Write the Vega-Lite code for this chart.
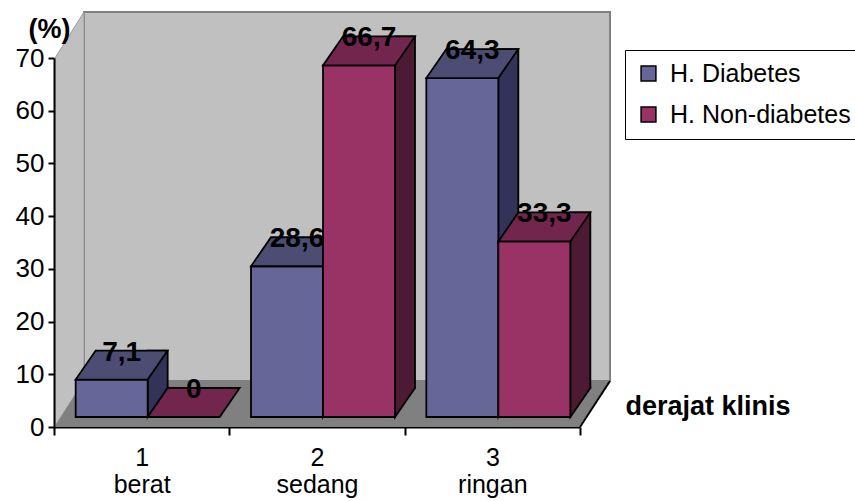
{
  "$schema": "https://vega.github.io/schema/vega-lite/v6.json",
  "width": 526,
  "height": 369,
  "autosize": {"type": "none"},
  "padding": {"left": 54, "top": 58, "right": 275, "bottom": 74},
  "background": "white",
  "config": {
    "font": "Liberation Sans",
    "view": {"stroke": null},
    "axisX": {
      "domainColor": "black", "domainWidth": 2, "tickColor": "black", "tickWidth": 2, "tickSize": 8,
      "tickBand": "extent", "labelFontSize": 25, "labelAngle": 0, "labelPadding": 10, "labelLineHeight": 27,
      "labelBaseline": "top", "labelColor": "black", "grid": false, "zindex": 1,
      "titleFontSize": 27, "titleFontWeight": "bold", "titleX": 571, "titleY": -13, "titleAlign": "left",
      "titleBaseline": "alphabetic", "titleColor": "black"
    },
    "axisY": {
      "domainColor": "black", "domainWidth": 2, "tickColor": "black", "tickWidth": 2, "tickSize": 6,
      "labelFontSize": 26, "labelColor": "black", "labelPadding": 4, "grid": false, "zindex": 1,
      "titleFontSize": 27, "titleFontWeight": "bold", "titleAngle": 0, "titleX": -5, "titleY": -21,
      "titleAlign": "center", "titleBaseline": "alphabetic", "titleColor": "black"
    }
  },
  "data": {"values": [
    {"kelas": "1 berat", "seri": "H. Diabetes", "nilai": 7.1, "label": "7,1"},
    {"kelas": "1 berat", "seri": "H. Non-diabetes", "nilai": 0, "label": "0"},
    {"kelas": "2 sedang", "seri": "H. Diabetes", "nilai": 28.6, "label": "28,6"},
    {"kelas": "2 sedang", "seri": "H. Non-diabetes", "nilai": 66.7, "label": "66,7"},
    {"kelas": "3 ringan", "seri": "H. Diabetes", "nilai": 64.3, "label": "64,3"},
    {"kelas": "3 ringan", "seri": "H. Non-diabetes", "nilai": 33.3, "label": "33,3"}
  ]},
  "layer": [
    {
      "transform": [{"filter": "datum.kelas == '2 sedang' && datum.seri == 'H. Diabetes'"}],
      "mark": {"type": "point", "shape": "M-4.66,-0.92L5.86,-0.92L5.86,-8.3L-4.66,-8.3Z", "size": 10000,
               "filled": true, "fill": "#c0c0c0", "stroke": "#808080", "strokeWidth": 2, "opacity": 1},
      "encoding": {
        "x": {"field": "kelas", "type": "nominal", "sort": ["1 berat", "2 sedang", "3 ringan"], "title": "derajat klinis",
              "scale": {"domain": ["1 berat", "2 sedang", "3 ringan"], "paddingInner": 0, "paddingOuter": 0},
              "axis": {"zindex": 1, "labelExpr": "isValid(datum.value) ? split(datum.value, ' ') : ''"}},
        "y": {"datum": 0, "type": "quantitative", "title": "(%)",
              "scale": {"domain": [0, 70], "nice": false},
              "axis": {"zindex": 1, "values": [0, 10, 20, 30, 40, 50, 60, 70]}}
      }
    },
    {
      "transform": [{"filter": "datum.kelas == '1 berat' && datum.seri == 'H. Diabetes'"}],
      "mark": {"type": "point", "shape": "M-1.732,-0.02L-1.732,-7.38L-1.1533,-8.3L-1.1533,-0.92Z", "size": 10000,
               "filled": true, "fill": "#c0c0c0", "stroke": "#9a9a9a", "strokeWidth": 1, "opacity": 1},
      "encoding": {
        "x": {"field": "kelas", "type": "nominal", "sort": ["1 berat", "2 sedang", "3 ringan"], "title": "derajat klinis"},
        "y": {"datum": 0, "type": "quantitative", "title": "(%)"}
      }
    },
    {
      "transform": [{"filter": "datum.kelas == '2 sedang' && datum.seri == 'H. Diabetes'"}],
      "mark": {"type": "point", "shape": "M-5.24,-0.022L5.25,-0.022L5.86,-0.92L-4.66,-0.92Z", "size": 10000,
               "filled": true, "fill": "#808080", "strokeWidth": 0, "opacity": 1},
      "encoding": {
        "x": {"field": "kelas", "type": "nominal", "sort": ["1 berat", "2 sedang", "3 ringan"], "title": "derajat klinis"},
        "y": {"datum": 0, "type": "quantitative", "title": "(%)"}
      }
    },
    {
      "transform": [{"filter": "datum.kelas == '2 sedang' && datum.seri == 'H. Diabetes'"}],
      "mark": {"type": "point", "shape": "M5.26,0L5.86,-0.92", "size": 10000,
               "filled": false, "stroke": "black", "strokeWidth": 2, "opacity": 1},
      "encoding": {
        "x": {"field": "kelas", "type": "nominal", "sort": ["1 berat", "2 sedang", "3 ringan"], "title": "derajat klinis"},
        "y": {"datum": 0, "type": "quantitative", "title": "(%)"}
      }
    },
    {
      "transform": [{"filter": "datum.seri == 'H. Diabetes' && datum.nilai > 0"}],
      "mark": {"type": "bar", "width": 20, "xOffset": 16, "yOffset": -39, "y2Offset": -39,
               "fill": "#333359", "stroke": "black", "strokeWidth": 1.8},
      "encoding": {
        "x": {"field": "kelas", "type": "nominal", "sort": ["1 berat", "2 sedang", "3 ringan"], "title": "derajat klinis"},
        "y": {"field": "nilai", "type": "quantitative", "title": "(%)"},
        "y2": {"datum": 0}
      }
    },
    {
      "transform": [{"filter": "datum.seri == 'H. Diabetes' && datum.nilai > 0"}],
      "mark": {"type": "point", "shape": "M0.72,-0.62L0.72,0L1.12,-0.58L1.12,-0.62", "size": 10000,
               "filled": true, "fill": "#333359", "stroke": "black", "strokeWidth": 1.8, "opacity": 1,
               "xOffset": -30, "yOffset": -10},
      "encoding": {
        "x": {"field": "kelas", "type": "nominal", "sort": ["1 berat", "2 sedang", "3 ringan"], "title": "derajat klinis"},
        "y": {"datum": 0, "type": "quantitative", "title": "(%)"}
      }
    },
    {
      "transform": [{"filter": "datum.seri == 'H. Diabetes'"}],
      "mark": {"type": "bar", "width": 72, "xOffset": -30, "yOffset": -10, "y2Offset": -10,
               "stroke": "black", "strokeWidth": 1.8, "opacity": 1},
      "encoding": {
        "x": {"field": "kelas", "type": "nominal", "sort": ["1 berat", "2 sedang", "3 ringan"], "title": "derajat klinis"},
        "y": {"field": "nilai", "type": "quantitative", "title": "(%)"},
        "y2": {"datum": 0},
        "color": {"field": "seri", "type": "nominal",
                  "scale": {"domain": ["H. Diabetes", "H. Non-diabetes"], "range": ["#666699", "#993366"]},
                  "legend": {"orient": "none", "legendX": 571, "legendY": -8, "title": null,
                             "strokeColor": "black", "fillColor": "white", "padding": 11,
                             "labelFontSize": 25, "labelColor": "black", "labelOffset": 9, "labelLimit": 0,
                             "rowPadding": 15, "symbolType": "square", "symbolSize": 220,
                             "symbolStrokeColor": "black", "symbolStrokeWidth": 1.5, "symbolOpacity": 1}}
      }
    },
    {
      "transform": [{"filter": "datum.seri == 'H. Diabetes'"}],
      "mark": {"type": "point", "shape": "M-0.72,0L0.72,0L1.12,-0.58L-0.32,-0.58Z", "size": 10000,
               "filled": true, "fill": "#4d4d73", "stroke": "black", "strokeWidth": 1.8, "opacity": 1,
               "xOffset": -30, "yOffset": -10},
      "encoding": {
        "x": {"field": "kelas", "type": "nominal", "sort": ["1 berat", "2 sedang", "3 ringan"], "title": "derajat klinis"},
        "y": {"field": "nilai", "type": "quantitative", "title": "(%)"}
      }
    },
    {
      "transform": [{"filter": "datum.seri == 'H. Non-diabetes' && datum.nilai > 0"}],
      "mark": {"type": "bar", "width": 20, "xOffset": 88, "yOffset": -39, "y2Offset": -39,
               "fill": "#4d1a33", "stroke": "black", "strokeWidth": 1.8},
      "encoding": {
        "x": {"field": "kelas", "type": "nominal", "sort": ["1 berat", "2 sedang", "3 ringan"], "title": "derajat klinis"},
        "y": {"field": "nilai", "type": "quantitative", "title": "(%)"},
        "y2": {"datum": 0}
      }
    },
    {
      "transform": [{"filter": "datum.seri == 'H. Non-diabetes' && datum.nilai > 0"}],
      "mark": {"type": "point", "shape": "M0.72,-0.62L0.72,0L1.12,-0.58L1.12,-0.62", "size": 10000,
               "filled": true, "fill": "#4d1a33", "stroke": "black", "strokeWidth": 1.8, "opacity": 1,
               "xOffset": 42, "yOffset": -10},
      "encoding": {
        "x": {"field": "kelas", "type": "nominal", "sort": ["1 berat", "2 sedang", "3 ringan"], "title": "derajat klinis"},
        "y": {"datum": 0, "type": "quantitative", "title": "(%)"}
      }
    },
    {
      "transform": [{"filter": "datum.seri == 'H. Non-diabetes'"}],
      "mark": {"type": "bar", "width": 72, "xOffset": 42, "yOffset": -10, "y2Offset": -10,
               "stroke": "black", "strokeWidth": 1.8, "opacity": 1},
      "encoding": {
        "x": {"field": "kelas", "type": "nominal", "sort": ["1 berat", "2 sedang", "3 ringan"], "title": "derajat klinis"},
        "y": {"field": "nilai", "type": "quantitative", "title": "(%)"},
        "y2": {"datum": 0},
        "color": {"field": "seri", "type": "nominal"}
      }
    },
    {
      "transform": [{"filter": "datum.seri == 'H. Non-diabetes'"}],
      "mark": {"type": "point", "shape": "M-0.72,0L0.72,0L1.12,-0.58L-0.32,-0.58Z", "size": 10000,
               "filled": true, "fill": "#73264d", "stroke": "black", "strokeWidth": 1.8, "opacity": 1,
               "xOffset": 42, "yOffset": -10},
      "encoding": {
        "x": {"field": "kelas", "type": "nominal", "sort": ["1 berat", "2 sedang", "3 ringan"], "title": "derajat klinis"},
        "y": {"field": "nilai", "type": "quantitative", "title": "(%)"}
      }
    },
    {
      "transform": [{"filter": "datum.seri == 'H. Diabetes'"}],
      "mark": {"type": "text", "fontWeight": "bold", "fontSize": 28, "baseline": "alphabetic", "align": "center",
               "xOffset": -20, "yOffset": -29, "color": "black"},
      "encoding": {
        "x": {"field": "kelas", "type": "nominal", "sort": ["1 berat", "2 sedang", "3 ringan"], "title": "derajat klinis"},
        "y": {"field": "nilai", "type": "quantitative", "title": "(%)"},
        "text": {"field": "label"}
      }
    },
    {
      "transform": [{"filter": "datum.seri == 'H. Non-diabetes'"}],
      "mark": {"type": "text", "fontWeight": "bold", "fontSize": 28, "baseline": "alphabetic", "align": "center",
               "xOffset": 52, "yOffset": -29, "color": "black"},
      "encoding": {
        "x": {"field": "kelas", "type": "nominal", "sort": ["1 berat", "2 sedang", "3 ringan"], "title": "derajat klinis"},
        "y": {"field": "nilai", "type": "quantitative", "title": "(%)"},
        "text": {"field": "label"}
      }
    }
  ]
}
